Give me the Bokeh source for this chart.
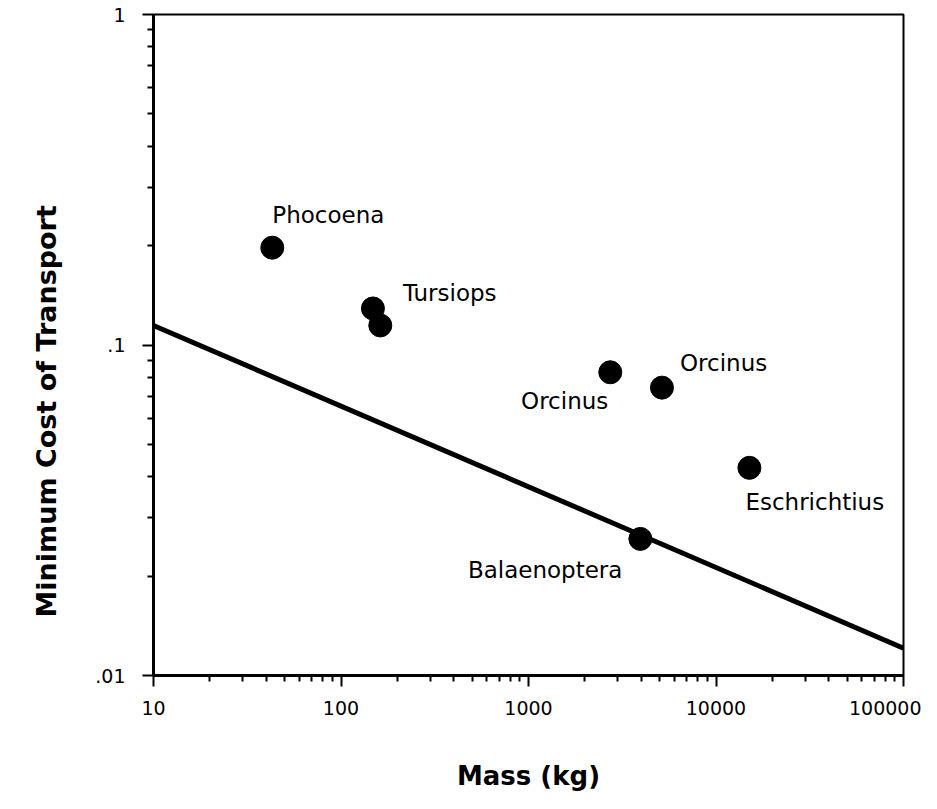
from bokeh.plotting import figure
from bokeh.models import ColumnDataSource, FixedTicker, Range1d, Title
from bokeh.core.properties import value
from bokeh.embed import file_html
from bokeh.resources import INLINE

# ---- data ----
species = ["Phocoena", "Tursiops", "Tursiops", "Orcinus", "Orcinus", "Eschrichtius", "Balaenoptera"]
mass_kg = [43, 148, 162, 2730, 5150, 15070, 3950]
min_cot = [0.197, 0.129, 0.1146, 0.0827, 0.0743, 0.0425, 0.0259]

line_mass = [10, 100000]
line_cot = [0.1146, 0.0121]

x_major = [10, 100, 1000, 10000, 100000]
x_major_labels = ["10", "100", "1000", "10000", "100000"]
y_major = [0.01, 0.1, 1]
y_major_labels = [".01", ".1", "1"]

x_title = "Mass (kg)"
y_title = "Minimum Cost of Transport"

# which points get a label, and how it is placed (style only)
label_idx = [0, 1, 3, 4, 5, 6]
label_style = {
    0: dict(dx=0, dy=-33, align="left"),
    1: dict(dx=30, dy=-15, align="left"),
    3: dict(dx=-2, dy=29, align="right"),
    4: dict(dx=18, dy=-25, align="left"),
    5: dict(dx=-4, dy=34, align="left"),
    6: dict(dx=-18, dy=31, align="right"),
}

FONT = "DejaVu Sans"

p = figure(
    width=921, height=800,
    x_axis_type="log", y_axis_type="log",
    x_range=Range1d(10, 100000), y_range=Range1d(0.01, 1),
    output_backend="svg", toolbar_location=None,
    min_border_left=153, min_border_right=18,
    min_border_top=14, min_border_bottom=125,
)
p.background_fill_color = "white"
p.border_fill_color = "white"
p.grid.visible = False
p.outline_line_color = "black"
p.outline_line_width = 2

def minor_for(majors):
    out = []
    for m in majors[:-1]:
        for k in range(2, 10):
            out.append(m * k)
    return out

p.xaxis.ticker = FixedTicker(ticks=x_major, minor_ticks=minor_for(x_major))
p.yaxis.ticker = FixedTicker(ticks=y_major, minor_ticks=minor_for(y_major))
p.xaxis.major_label_overrides = {t: l for t, l in zip(x_major, x_major_labels)}
p.yaxis.major_label_overrides = {t: l for t, l in zip(y_major, y_major_labels)}

for ax in (p.xaxis, p.yaxis):
    ax.axis_line_width = 3
    ax.axis_line_color = "black"
    ax.major_tick_line_width = 2
    ax.minor_tick_line_width = 2
    ax.major_tick_line_color = "black"
    ax.minor_tick_line_color = "black"
    ax.major_tick_out = 11
    ax.major_tick_in = 0
    ax.minor_tick_out = 6
    ax.minor_tick_in = 0
    ax.major_label_text_font = FONT
    ax.major_label_text_font_size = "19px"
    ax.major_label_text_color = "black"
p.xaxis.major_label_standoff = 14
p.yaxis.major_label_standoff = 17

# x title as the axis label
p.xaxis.axis_label = x_title
p.xaxis.axis_label_standoff = 43
p.xaxis.axis_label_text_font = FONT
p.xaxis.axis_label_text_font_style = "bold"
p.xaxis.axis_label_text_font_size = "26px"
p.xaxis.axis_label_text_color = "black"

# regression line
p.line(line_mass, line_cot, line_color="black", line_width=5)

# points
src = ColumnDataSource(dict(x=mass_kg, y=min_cot))
p.scatter("x", "y", source=src, size=23, fill_color="black", line_color="black")

# point labels
lab = ColumnDataSource(dict(
    x=[mass_kg[i] for i in label_idx],
    y=[min_cot[i] for i in label_idx],
    text=[species[i] for i in label_idx],
    dx=[label_style[i]["dx"] for i in label_idx],
    dy=[label_style[i]["dy"] for i in label_idx],
    align=[label_style[i]["align"] for i in label_idx],
))
p.text("x", "y", text="text", source=lab, x_offset="dx", y_offset="dy",
       text_align="align", text_baseline="alphabetic",
       text_font=value(FONT), text_font_size="23px", text_color="black")

# y title, shifted along the axis as in the reference
p.add_layout(Title(text=y_title, align="left", offset=58, standoff=58,
                   vertical_align="top",
                   text_font=FONT, text_font_style="bold", text_font_size="27px",
                   text_color="black"), "left")

open("out.html", "w").write(file_html(p, INLINE))
